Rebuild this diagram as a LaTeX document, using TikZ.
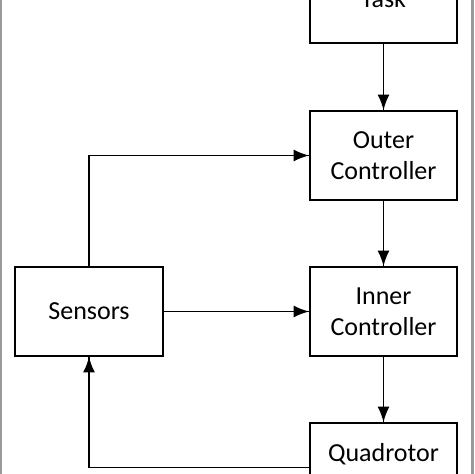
\documentclass[tikz,border=0pt]{standalone}
\usepackage{fontspec}
\setmainfont{Carlito}
\usepackage{tikz}
\usetikzlibrary{arrows}
\usetikzlibrary{decorations.markings}
\usetikzlibrary{positioning}
\tikzset{flow/.style = {decoration={markings,
                                  mark=at position 1 with {\arrow[scale=1.5]{latex}}},
                      postaction={decorate}}}
\tikzset{block/.style = {draw, line width=0.7pt, align=center, minimum width=73.5pt,
                         minimum height=44.5pt, font=\fontsize{13}{15.5}\selectfont}}

\begin{document}
\begin{tikzpicture}[x=0.5pt, y=-0.5pt, line width=0.8pt]
      \useasboundingbox (0, 0) rectangle (474, 474);
      \clip (0, 0) rectangle (474, 474);
      \draw [gray!80, line width=1.2pt] (1, 0) -- (1, 474);
      \draw [gray!80, line width=1.2pt] (472.5, 0) -- (472.5, 474);
      \node [block] (task) at (383.5, -1.5) {Task};
      \node [block] (outer) at (383.5, 155.5) {Outer\\Controller};
      \node [block] (inner) at (383.5, 311.5) {Inner\\Controller};
      \node [block] (quad) at (383.5, 467.5) {Quadrotor\\\mbox{}};
      \node [block, minimum width=74pt] (sensors) at (89, 311.5) {Sensors};
      \draw [flow] (task) -- (outer);
      \draw [flow] (outer) -- (inner);
      \draw [flow] (inner) -- (quad);
      \draw [flow] (sensors) -- (inner);
      \draw [flow] (sensors.north) |- (outer.west);
      \draw [flow] (quad.west) -| (sensors.south);
    \end{tikzpicture}
\end{document}
